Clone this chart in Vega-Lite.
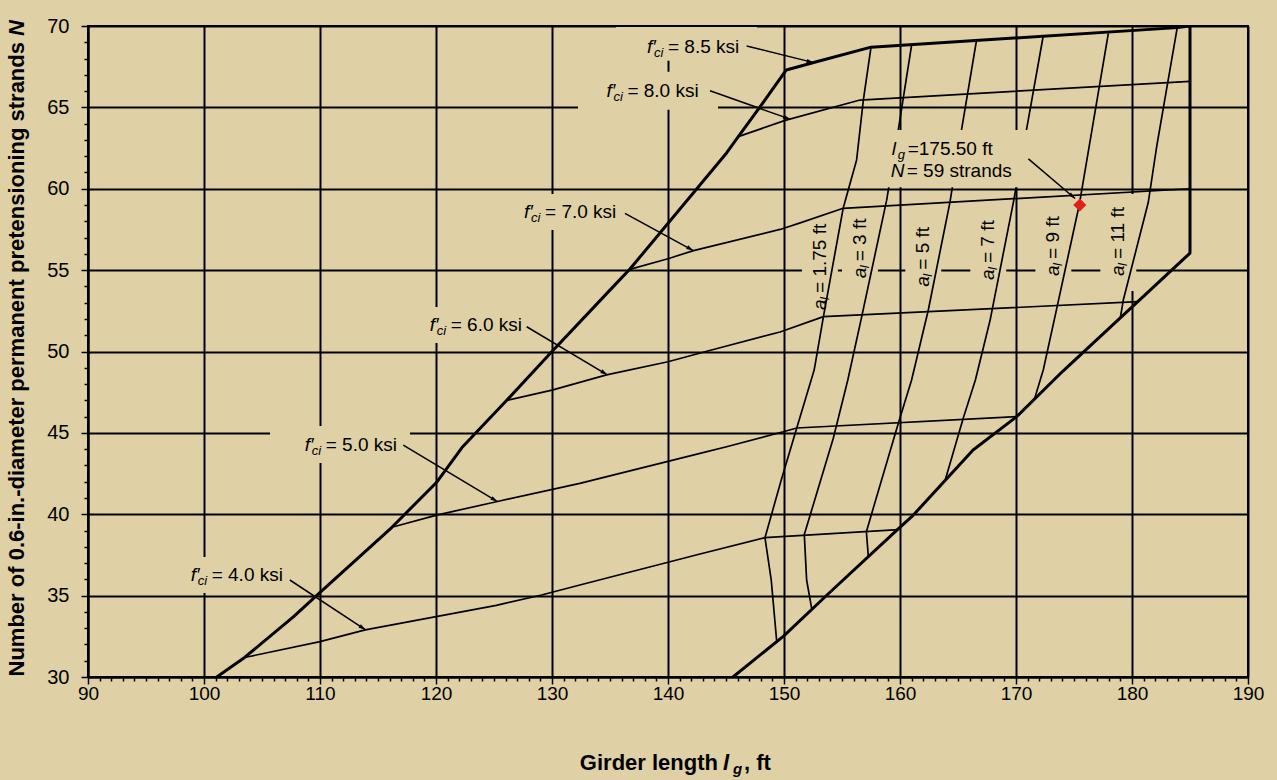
{
  "$schema": "https://vega.github.io/schema/vega-lite/v6.json",
  "width": 1160,
  "height": 651,
  "autosize": "none",
  "padding": {"left": 88, "top": 26, "right": 29, "bottom": 103},
  "background": "#DFD0A6",
  "config": {
    "font": "Liberation Sans",
    "view": {"fill": "#DFD0A6", "stroke": "black", "strokeWidth": 2}
  },
  "datasets": {
    "lines": [
      {"s":"B","k":"thick","i":1,"x":101.1,"y":30},
      {"s":"B","k":"thick","i":2,"x":103.5,"y":31.2},
      {"s":"B","k":"thick","i":3,"x":107.7,"y":33.7},
      {"s":"B","k":"thick","i":4,"x":109.7,"y":35.0},
      {"s":"B","k":"thick","i":5,"x":116.2,"y":39.2},
      {"s":"B","k":"thick","i":6,"x":120.1,"y":42.0},
      {"s":"B","k":"thick","i":7,"x":122.3,"y":44.15},
      {"s":"B","k":"thick","i":8,"x":126.1,"y":47.0},
      {"s":"B","k":"thick","i":9,"x":130.0,"y":50.0},
      {"s":"B","k":"thick","i":10,"x":135.3,"y":54.0},
      {"s":"B","k":"thick","i":11,"x":136.7,"y":55.05},
      {"s":"B","k":"thick","i":12,"x":145.05,"y":62.2},
      {"s":"B","k":"thick","i":13,"x":146.06,"y":63.2},
      {"s":"B","k":"thick","i":14,"x":147.9,"y":65.0},
      {"s":"B","k":"thick","i":15,"x":150.2,"y":67.3},
      {"s":"B","k":"thick","i":16,"x":152.8,"y":67.8},
      {"s":"B","k":"thick","i":17,"x":157.5,"y":68.7},
      {"s":"B","k":"thick","i":18,"x":183.9,"y":69.9},
      {"s":"B","k":"thick","i":19,"x":185,"y":70},
      {"s":"B","k":"thick","i":20,"x":185,"y":56.05},
      {"s":"B","k":"thick","i":21,"x":180.5,"y":53.06},
      {"s":"B","k":"thick","i":22,"x":174.05,"y":48.8},
      {"s":"B","k":"thick","i":23,"x":170.06,"y":46.0},
      {"s":"B","k":"thick","i":24,"x":166.3,"y":43.95},
      {"s":"B","k":"thick","i":25,"x":161.15,"y":39.95},
      {"s":"B","k":"thick","i":26,"x":159.85,"y":39.1},
      {"s":"B","k":"thick","i":27,"x":153.8,"y":35.1},
      {"s":"B","k":"thick","i":28,"x":149.94,"y":32.5},
      {"s":"B","k":"thick","i":29,"x":145.6,"y":30},
      {"s":"F4","k":"thin","i":1,"x":103.5,"y":31.2},
      {"s":"F4","k":"thin","i":2,"x":110.0,"y":32.17},
      {"s":"F4","k":"thin","i":3,"x":113.9,"y":32.9},
      {"s":"F4","k":"thin","i":4,"x":125.2,"y":34.4},
      {"s":"F4","k":"thin","i":5,"x":129.1,"y":35.04},
      {"s":"F4","k":"thin","i":6,"x":132.4,"y":35.65},
      {"s":"F4","k":"thin","i":7,"x":142.76,"y":37.56},
      {"s":"F4","k":"thin","i":8,"x":148.36,"y":38.56},
      {"s":"F4","k":"thin","i":9,"x":159.85,"y":39.05},
      {"s":"F5","k":"thin","i":1,"x":116.2,"y":39.2},
      {"s":"F5","k":"thin","i":2,"x":120.06,"y":39.95},
      {"s":"F5","k":"thin","i":3,"x":125.2,"y":40.77},
      {"s":"F5","k":"thin","i":4,"x":132.4,"y":41.9},
      {"s":"F5","k":"thin","i":5,"x":142.76,"y":43.74},
      {"s":"F5","k":"thin","i":6,"x":145.05,"y":44.15},
      {"s":"F5","k":"thin","i":7,"x":149.94,"y":45.07},
      {"s":"F5","k":"thin","i":8,"x":151.1,"y":45.3},
      {"s":"F5","k":"thin","i":9,"x":170.06,"y":46.0},
      {"s":"F6","k":"thin","i":1,"x":126.1,"y":47.0},
      {"s":"F6","k":"thin","i":2,"x":130.0,"y":47.63},
      {"s":"F6","k":"thin","i":3,"x":134.7,"y":48.56},
      {"s":"F6","k":"thin","i":4,"x":140.0,"y":49.37},
      {"s":"F6","k":"thin","i":5,"x":143.75,"y":50.09},
      {"s":"F6","k":"thin","i":6,"x":149.66,"y":51.2},
      {"s":"F6","k":"thin","i":7,"x":153.4,"y":52.14},
      {"s":"F6","k":"thin","i":8,"x":180.5,"y":53.06},
      {"s":"F7","k":"thin","i":1,"x":136.7,"y":55.05},
      {"s":"F7","k":"thin","i":2,"x":140.0,"y":55.7},
      {"s":"F7","k":"thin","i":3,"x":142.2,"y":56.2},
      {"s":"F7","k":"thin","i":4,"x":149.66,"y":57.5},
      {"s":"F7","k":"thin","i":5,"x":151.4,"y":57.9},
      {"s":"F7","k":"thin","i":6,"x":155.1,"y":58.8},
      {"s":"F7","k":"thin","i":7,"x":185,"y":60.0},
      {"s":"F8","k":"thin","i":1,"x":146.06,"y":63.2},
      {"s":"F8","k":"thin","i":2,"x":150.1,"y":64.2},
      {"s":"F8","k":"thin","i":3,"x":156.55,"y":65.45},
      {"s":"F8","k":"thin","i":4,"x":185,"y":66.6},
      {"s":"A1","k":"thin","i":1,"x":149.37,"y":32.2},
      {"s":"A1","k":"thin","i":2,"x":148.9,"y":35.95},
      {"s":"A1","k":"thin","i":3,"x":148.36,"y":38.56},
      {"s":"A1","k":"thin","i":4,"x":149.8,"y":42.2},
      {"s":"A1","k":"thin","i":5,"x":151.1,"y":45.3},
      {"s":"A1","k":"thin","i":6,"x":152.6,"y":48.86},
      {"s":"A1","k":"thin","i":7,"x":153.4,"y":52.14},
      {"s":"A1","k":"thin","i":8,"x":155.1,"y":58.8},
      {"s":"A1","k":"thin","i":9,"x":156.26,"y":61.77},
      {"s":"A1","k":"thin","i":10,"x":156.84,"y":65.45},
      {"s":"A1","k":"thin","i":11,"x":157.5,"y":68.7},
      {"s":"A3","k":"thin","i":1,"x":152.4,"y":34.15},
      {"s":"A3","k":"thin","i":2,"x":151.95,"y":35.96},
      {"s":"A3","k":"thin","i":3,"x":151.75,"y":38.75},
      {"s":"A3","k":"thin","i":4,"x":154.25,"y":44.67},
      {"s":"A3","k":"thin","i":5,"x":155.5,"y":48.25},
      {"s":"A3","k":"thin","i":6,"x":156.7,"y":52.14},
      {"s":"A3","k":"thin","i":7,"x":158.85,"y":59.3},
      {"s":"A3","k":"thin","i":8,"x":159.85,"y":63.6},
      {"s":"A3","k":"thin","i":9,"x":161.0,"y":68.83},
      {"s":"A5","k":"thin","i":1,"x":157.27,"y":37.4},
      {"s":"A5","k":"thin","i":2,"x":157.1,"y":38.93},
      {"s":"A5","k":"thin","i":3,"x":159.85,"y":45.58},
      {"s":"A5","k":"thin","i":4,"x":161.0,"y":48.25},
      {"s":"A5","k":"thin","i":5,"x":162.44,"y":52.55},
      {"s":"A5","k":"thin","i":6,"x":164.3,"y":59.15},
      {"s":"A5","k":"thin","i":7,"x":165.3,"y":63.6},
      {"s":"A5","k":"thin","i":8,"x":166.6,"y":69.14},
      {"s":"A7","k":"thin","i":1,"x":163.9,"y":42.1},
      {"s":"A7","k":"thin","i":2,"x":165.45,"y":45.9},
      {"s":"A7","k":"thin","i":3,"x":166.5,"y":48.25},
      {"s":"A7","k":"thin","i":4,"x":167.76,"y":51.9},
      {"s":"A7","k":"thin","i":5,"x":169.77,"y":59.15},
      {"s":"A7","k":"thin","i":6,"x":170.9,"y":63.6},
      {"s":"A7","k":"thin","i":7,"x":172.35,"y":69.4},
      {"s":"A9","k":"thin","i":1,"x":171.6,"y":47.1},
      {"s":"A9","k":"thin","i":2,"x":172.35,"y":48.86},
      {"s":"A9","k":"thin","i":3,"x":173.5,"y":52.6},
      {"s":"A9","k":"thin","i":4,"x":175.45,"y":59.0},
      {"s":"A9","k":"thin","i":5,"x":177.96,"y":69.55},
      {"s":"A11","k":"thin","i":1,"x":179.0,"y":52.1},
      {"s":"A11","k":"thin","i":2,"x":179.25,"y":53.16},
      {"s":"A11","k":"thin","i":3,"x":181.4,"y":59.15},
      {"s":"A11","k":"thin","i":4,"x":182.13,"y":62.6},
      {"s":"A11","k":"thin","i":5,"x":183.9,"y":69.9}
    ],
    "masks": [
      {"x":135.52,"x2":147.67,"y":67.87,"y2":69.94},
      {"x":132.24,"x2":144.31,"y":64.85,"y2":67.19},
      {"x":125.09,"x2":137.16,"y":57.47,"y2":59.68},
      {"x":116.98,"x2":129.05,"y":50.52,"y2":52.73},
      {"x":105.69,"x2":117.76,"y":43.15,"y2":45.42},
      {"x":96.38,"x2":108.45,"y":35.16,"y2":37.37},
      {"x":151.55,"x2":154.65,"y":51.63,"y2":58.45},
      {"x":155.0,"x2":158.1,"y":53.59,"y2":58.76},
      {"x":160.46,"x2":163.56,"y":53.04,"y2":58.14},
      {"x":166.06,"x2":169.16,"y":53.47,"y2":58.69},
      {"x":171.67,"x2":174.77,"y":53.72,"y2":59.0},
      {"x":177.27,"x2":180.37,"y":53.72,"y2":59.68}
    ],
    "cover": [
      {"x":158.28,"x2":172.07,"y":60.09,"y2":63.61}
    ],
    "arrows": [
      {"id":"a85","x":152.55,"y":67.75,"x2":146.78,"y2":68.77},
      {"id":"a80","x":150.52,"y":64.28,"x2":143.62,"y2":66.02},
      {"id":"a70","x":142.18,"y":56.2,"x2":136.29,"y2":58.49},
      {"id":"a60","x":134.77,"y":48.57,"x2":127.82,"y2":51.52},
      {"id":"a50","x":125.3,"y":40.78,"x2":117.18,"y2":44.25},
      {"id":"a40","x":113.93,"y":32.9,"x2":107.4,"y2":35.96},
      {"id":"alg","x":175.09,"y":59.4,"x2":171.07,"y2":61.84}
    ],
    "point": [{"x":175.5,"y":59}],
    "fci": [
      {"x":140.0,"y":68.71,"label":"= 8.5 ksi"},
      {"x":136.5,"y":66.0,"label":"= 8.0 ksi"},
      {"x":129.4,"y":58.55,"label":"= 7.0 ksi"},
      {"x":121.27,"y":51.63,"label":"= 6.0 ksi"},
      {"x":110.49,"y":44.25,"label":"= 5.0 ksi"},
      {"x":100.66,"y":36.27,"label":"= 4.0 ksi"}
    ],
    "al": [
      {"x":153.1,"y":52.55,"label":"= 1.75 ft"},
      {"x":156.55,"y":54.5,"label":"= 3 ft"},
      {"x":162.01,"y":53.98,"label":"= 5 ft"},
      {"x":167.61,"y":54.39,"label":"= 7 ft"},
      {"x":173.22,"y":54.64,"label":"= 9 ft"},
      {"x":178.82,"y":54.64,"label":"= 11 ft"}
    ],
    "note": [
      {"x":159.28,"y":62.42,"sym":"l","sub":"g","label":"=175.50 ft"},
      {"x":159.2,"y":61.09,"sym":"N","sub":"","label":"= 59 strands"}
    ],
    "xtitle": [{"x":144.74,"y":24.72}],
    "ytitle": [{"x":83.88,"y":69.385}]
  },
  "encoding": {
    "x": {
      "field": "x", "type": "quantitative",
      "scale": {"domain": [90, 190], "nice": false, "zero": false},
      "axis": {
        "title": null,
        "values": [90,91,92,93,94,95,96,97,98,99,100,101,102,103,104,105,106,107,108,109,110,111,112,113,114,115,116,117,118,119,120,121,122,123,124,125,126,127,128,129,130,131,132,133,134,135,136,137,138,139,140,141,142,143,144,145,146,147,148,149,150,151,152,153,154,155,156,157,158,159,160,161,162,163,164,165,166,167,168,169,170,171,172,173,174,175,176,177,178,179,180,181,182,183,184,185,186,187,188,189,190],
        "grid": true,
        "gridColor": "black",
        "gridWidth": 2,
        "gridOpacity": {"condition": {"test": "datum.value % 10 === 0", "value": 1}, "value": 0},
        "tickColor": "black",
        "tickWidth": 1.5,
        "tickSize": {"condition": {"test": "datum.value % 10 === 0", "value": 7}, "value": 4},
        "labelExpr": "datum.value % 10 === 0 ? datum.label : ''",
        "labelFontSize": 19,
        "labelColor": "black",
        "labelPadding": 0,
        "labelOverlap": false,
        "labelFlush": false,
        "domainColor": "black",
        "domainWidth": 2
      }
    },
    "y": {
      "field": "y", "type": "quantitative",
      "scale": {"domain": [30, 70], "nice": false, "zero": false},
      "axis": {
        "title": null,
        "values": [30,31,32,33,34,35,36,37,38,39,40,41,42,43,44,45,46,47,48,49,50,51,52,53,54,55,56,57,58,59,60,61,62,63,64,65,66,67,68,69,70],
        "grid": true,
        "gridColor": "black",
        "gridWidth": 2,
        "gridOpacity": {"condition": {"test": "datum.value % 5 === 0", "value": 1}, "value": 0},
        "tickColor": "black",
        "tickWidth": 1.5,
        "tickSize": {"condition": {"test": "datum.value % 5 === 0", "value": 7}, "value": 4},
        "labelExpr": "datum.value % 5 === 0 ? datum.label : ''",
        "labelFontSize": 20,
        "labelColor": "black",
        "labelPadding": 12,
        "labelOverlap": false,
        "labelFlush": false,
        "domainColor": "black",
        "domainWidth": 2
      }
    }
  },
  "layer": [
    {
      "data": {"name": "masks"},
      "mark": {"type": "rect", "color": "#DFD0A6", "strokeWidth": 0},
      "encoding": {"x2": {"field": "x2"}, "y2": {"field": "y2"}}
    },
    {
      "data": {"name": "lines"},
      "mark": {"type": "line", "color": "black", "clip": true, "strokeJoin": "round"},
      "encoding": {
        "detail": {"field": "s"},
        "order": {"field": "i", "type": "quantitative"},
        "strokeWidth": {"field": "k", "type": "nominal", "scale": {"domain": ["thick", "thin"], "range": [3, 1.7]}, "legend": null}
      }
    },
    {
      "data": {"name": "cover"},
      "mark": {"type": "rect", "color": "#DFD0A6", "strokeWidth": 0},
      "encoding": {"x2": {"field": "x2"}, "y2": {"field": "y2"}}
    },
    {
      "data": {"name": "arrows"},
      "mark": {"type": "rule", "color": "black", "strokeWidth": 1.5},
      "encoding": {"x2": {"field": "x2"}, "y2": {"field": "y2"}}
    },
    {"data": {"name": "arrows"}, "transform": [{"filter": "datum.id === 'a85'"}], "mark": {"type": "point", "shape": "M0,0L0.6,2L-0.6,2Z", "filled": true, "color": "black", "opacity": 1, "size": 49, "angle": 104}},
    {"data": {"name": "arrows"}, "transform": [{"filter": "datum.id === 'a80'"}], "mark": {"type": "point", "shape": "M0,0L0.6,2L-0.6,2Z", "filled": true, "color": "black", "opacity": 1, "size": 49, "angle": 110}},
    {"data": {"name": "arrows"}, "transform": [{"filter": "datum.id === 'a70'"}], "mark": {"type": "point", "shape": "M0,0L0.6,2L-0.6,2Z", "filled": true, "color": "black", "opacity": 1, "size": 49, "angle": 119}},
    {"data": {"name": "arrows"}, "transform": [{"filter": "datum.id === 'a60'"}], "mark": {"type": "point", "shape": "M0,0L0.6,2L-0.6,2Z", "filled": true, "color": "black", "opacity": 1, "size": 49, "angle": 121}},
    {"data": {"name": "arrows"}, "transform": [{"filter": "datum.id === 'a50'"}], "mark": {"type": "point", "shape": "M0,0L0.6,2L-0.6,2Z", "filled": true, "color": "black", "opacity": 1, "size": 49, "angle": 121}},
    {"data": {"name": "arrows"}, "transform": [{"filter": "datum.id === 'a40'"}], "mark": {"type": "point", "shape": "M0,0L0.6,2L-0.6,2Z", "filled": true, "color": "black", "opacity": 1, "size": 49, "angle": 123}},
    {"data": {"name": "arrows"}, "transform": [{"filter": "datum.id === 'alg'"}], "mark": {"type": "point", "shape": "M0,0L0.6,2L-0.6,2Z", "filled": true, "color": "black", "opacity": 1, "size": 49, "angle": 130}},
    {
      "data": {"name": "point"},
      "mark": {"type": "point", "shape": "diamond", "filled": true, "color": "#E0201B", "opacity": 1, "size": 170}
    },
    {
      "data": {"name": "fci"},
      "mark": {"type": "text", "text": "f′", "fontStyle": "italic", "fontSize": 19, "align": "left", "baseline": "middle", "dx": -21, "color": "black"}
    },
    {
      "data": {"name": "fci"},
      "mark": {"type": "text", "text": "ci", "fontStyle": "italic", "fontSize": 13, "align": "left", "baseline": "middle", "dx": -14, "dy": 6, "color": "black"}
    },
    {
      "data": {"name": "fci"},
      "mark": {"type": "text", "fontSize": 19, "align": "left", "baseline": "middle", "color": "black"},
      "encoding": {"text": {"field": "label"}}
    },
    {
      "data": {"name": "al"},
      "mark": {"type": "text", "text": "a", "fontStyle": "italic", "fontSize": 19, "angle": 270, "align": "left", "baseline": "middle", "color": "black"}
    },
    {
      "data": {"name": "al"},
      "mark": {"type": "text", "text": "l", "fontStyle": "italic", "fontSize": 13, "angle": 270, "align": "left", "baseline": "middle", "dx": 10, "dy": 5, "color": "black"}
    },
    {
      "data": {"name": "al"},
      "mark": {"type": "text", "fontSize": 19, "angle": 270, "align": "left", "baseline": "middle", "dx": 17, "color": "black"},
      "encoding": {"text": {"field": "label"}}
    },
    {
      "data": {"name": "note"},
      "mark": {"type": "text", "fontStyle": "italic", "fontSize": 19, "align": "left", "baseline": "middle", "color": "black"},
      "encoding": {"text": {"field": "sym"}}
    },
    {
      "data": {"name": "note"},
      "mark": {"type": "text", "fontStyle": "italic", "fontSize": 13, "align": "left", "baseline": "middle", "dx": 6, "dy": 6, "color": "black"},
      "encoding": {"text": {"field": "sub"}}
    },
    {
      "data": {"name": "note"},
      "mark": {"type": "text", "fontSize": 19, "align": "left", "baseline": "middle", "dx": 16, "color": "black"},
      "encoding": {"text": {"field": "label"}}
    },
    {
      "data": {"name": "xtitle"},
      "mark": {"type": "text", "text": "Girder length", "fontWeight": "bold", "fontSize": 22, "align": "right", "baseline": "middle", "dx": -5, "color": "black"}
    },
    {
      "data": {"name": "xtitle"},
      "mark": {"type": "text", "text": "l", "fontWeight": "bold", "fontStyle": "italic", "fontSize": 22, "align": "left", "baseline": "middle", "color": "black"}
    },
    {
      "data": {"name": "xtitle"},
      "mark": {"type": "text", "text": "g", "fontWeight": "bold", "fontStyle": "italic", "fontSize": 15, "align": "left", "baseline": "middle", "dx": 10, "dy": 6, "color": "black"}
    },
    {
      "data": {"name": "xtitle"},
      "mark": {"type": "text", "text": ", ft", "fontWeight": "bold", "fontSize": 22, "align": "left", "baseline": "middle", "dx": 21, "color": "black"}
    },
    {
      "data": {"name": "ytitle"},
      "mark": {"type": "text", "text": "Number of 0.6-in.-diameter permanent pretensioning strands", "fontWeight": "bold", "fontSize": 22, "angle": 270, "align": "right", "baseline": "middle", "dx": -6, "color": "black"}
    },
    {
      "data": {"name": "ytitle"},
      "mark": {"type": "text", "text": "N", "fontWeight": "bold", "fontStyle": "italic", "fontSize": 22, "angle": 270, "align": "left", "baseline": "middle", "color": "black"}
    }
  ]
}
